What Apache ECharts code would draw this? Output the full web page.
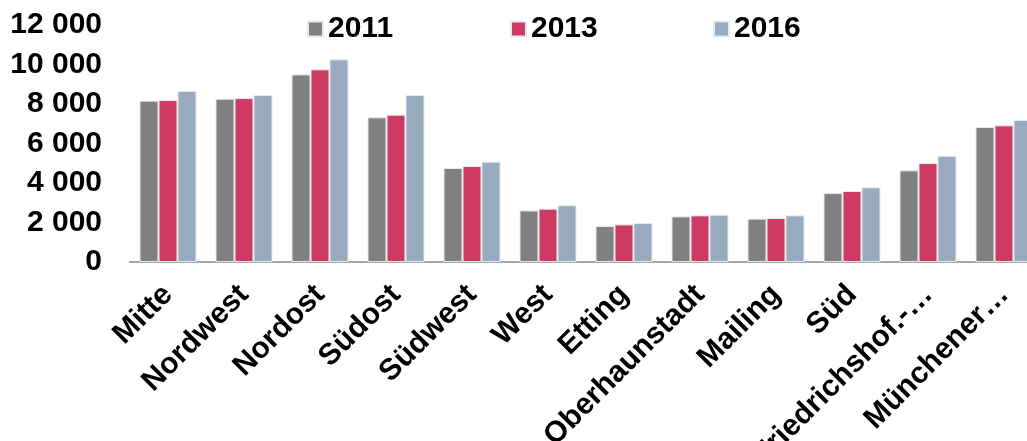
<!DOCTYPE html>
<html>
<head>
<meta charset="utf-8">
<script src="https://cdn.jsdelivr.net/npm/echarts@6/dist/echarts.min.js"></script>
<style>html,body{margin:0;padding:0;background:#fff}#c{width:1027px;height:441px}</style>
</head>
<body>
<div id="c"></div>
<script>
const categories = ["Mitte","Nordwest","Nordost","Südost","Südwest","West","Etting","Oberhaunstadt","Mailing","Süd","Friedrichshof.-…","Münchener…"];
const s2011 = [8170, 8270, 9500, 7325, 4760, 2610, 1820, 2310, 2195, 3490, 4640, 6835];
const s2013 = [8200, 8300, 9755, 7460, 4860, 2700, 1905, 2360, 2230, 3595, 5010, 6920];
const s2016 = [8660, 8455, 10260, 8455, 5080, 2870, 1975, 2395, 2360, 3780, 5380, 7190];
const yTicks = {min: 0, max: 12000, interval: 2000};

const font = '"Liberation Sans", Arial, sans-serif';
const colors = ['#808080', '#CF3A63', '#98AABD'];
const names = ['2011','2013','2016'];
const chart = echarts.init(document.getElementById('c'), null, {renderer: 'canvas'});
function fmt(v){ return String(v).replace(/\B(?=(\d{3})+(?!\d))/g, ' '); }
const legendLefts = [302, 505, 708];
chart.setOption({
  animation: false,
  backgroundColor: '#fff',
  legend: names.map((n, i) => ({
    data: [n], left: legendLefts[i], top: 9,
    itemWidth: 15, itemHeight: 15, itemGap: 0,
    icon: 'rect',
    textStyle: {fontFamily: font, fontWeight: 'bold', fontSize: 30, color: '#000'}
  })),
  grid: {left: 130, top: 25, width: 912, height: 237, containLabel: false, outerBoundsMode: 'none'},
  xAxis: {
    type: 'category', data: categories,
    axisLine: {show: true, lineStyle: {color: '#A6A6A6', width: 2}},
    axisTick: {show: false},
    axisLabel: {rotate: 45, interval: 0, margin: 28, fontFamily: font, fontWeight: 'bold', fontSize: 30, color: '#000'}
  },
  yAxis: {
    type: 'value', min: yTicks.min, max: yTicks.max, interval: yTicks.interval,
    axisLine: {show: false}, axisTick: {show: false}, splitLine: {show: false},
    axisLabel: {margin: 28, fontFamily: font, fontWeight: 'bold', fontSize: 30, color: '#000', formatter: fmt}
  },
  series: [s2011, s2013, s2016].map((d, i) => ({
    name: names[i], type: 'bar', data: d,
    barGap: '0%', barCategoryGap: '25%',
    itemStyle: {color: colors[i], borderColor: '#E6EAF0', borderWidth: 1}
  }))
});
</script>
</body>
</html>
